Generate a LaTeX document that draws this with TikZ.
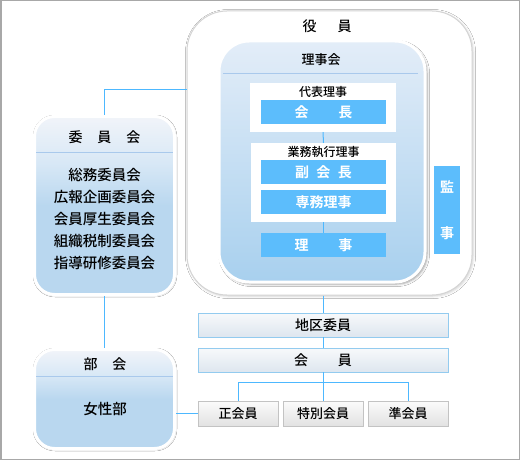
\documentclass[tikz,border=0pt]{standalone}
\usepackage{fontspec}
\setmainfont{Noto Sans CJK JP}[UprightFont={* Medium}, BoldFont={* Bold}]
\usepackage{tikz}
\usetikzlibrary{shadows.blur}
\definecolor{linkblue}{HTML}{4DB8FF}
\definecolor{barblue}{HTML}{5CBDFC}
\definecolor{rimgray}{HTML}{D4D4D4}
\definecolor{framegray}{HTML}{A8A8A8}
\definecolor{boxtop}{HTML}{F1F4F9}
\definecolor{boxmid}{HTML}{D8E8F6}
\definecolor{boxbot}{HTML}{B9D7EF}
\definecolor{rjtop}{HTML}{E3EDF8}
\definecolor{rjbot}{HTML}{A8D0EE}
\definecolor{sepblue}{HTML}{A9C9EC}
\definecolor{tabedge}{HTML}{93CBEF}
\definecolor{tabtop}{HTML}{F7F9FB}
\definecolor{tabbot}{HTML}{DEE6EF}
\definecolor{rankedge}{HTML}{C3C3C3}
\definecolor{ranktop}{HTML}{FBFBFB}
\definecolor{rankbot}{HTML}{E2E2E2}
\pgfdeclareverticalshading{panelfade}{100bp}{color(0bp)=(boxbot); color(25bp)=(boxbot); color(50bp)=(boxbot); color(62bp)=(boxmid); color(75bp)=(boxtop); color(100bp)=(boxtop)}
\tikzset{
  fs/.style={font=\fontsize{#1}{#1}\selectfont},
  link/.style={draw=linkblue, line width=1pt},
  sidepanel/.style={rounded corners=20pt, draw=white, line width=3pt, shading=panelfade,
    inner sep=0pt, blur shadow={shadow xshift=0.5pt, shadow yshift=-0.5pt, shadow blur radius=2pt, shadow opacity=45}},
  postbar/.style={fill=barblue, text=white, fs=14, font=\fontsize{14}{14}\selectfont\bfseries,
    minimum width=125, minimum height=24, inner sep=0pt},
  whitebox/.style={fill=white, inner sep=0pt},
  tierbox/.style={draw=tabedge, top color=tabtop, bottom color=tabbot, fs=14,
    minimum width=250, minimum height=24, inner sep=0pt},
  rankbox/.style={draw=rankedge, top color=ranktop, bottom color=rankbot, fs=13,
    minimum width=80, minimum height=25, inner sep=0pt}
}
\begin{document}
\begin{tikzpicture}[x=1pt, y=-1pt]
	\useasboundingbox (0,0) rectangle (520,460);
	\fill[white] (0,0) rectangle (520,460);
	\draw[framegray, line width=1.5pt] (0.75,0.75) rectangle (519.25,459.25);
	% officers
	\node[draw=rimgray, fill=white, line width=1pt, rounded corners=40pt, inner sep=0pt,
		minimum width=285, minimum height=284,
		blur shadow={shadow xshift=1pt, shadow yshift=-1pt, shadow blur radius=2.5pt, shadow opacity=20}] (yakuin) at (329.5,153) {};
	\node[fs=14] (t-yakuin) at (327,26) {役\hspace{21pt}員};
	\node[rounded corners=30pt, draw=white, line width=3pt, top color=rjtop, bottom color=rjbot,
		inner sep=0pt, minimum width=206, minimum height=241,
		blur shadow={shadow xshift=2pt, shadow yshift=-2pt, shadow blur radius=2.5pt, shadow opacity=40}] (rijikai) at (322,161.5) {};
	\node[fs=13] (t-rijikai) at (321,60) {理事会};
	\draw[sepblue] (223,73) -- (418,73);
	\node[whitebox, minimum width=146, minimum height=49] (daihyo) at (323,107.5) {};
	\node[fs=12] (t-daihyo) at (323,92) {代表理事};
	\node[whitebox, minimum width=145, minimum height=79] (gyomu) at (323.5,182.5) {};
	\node[fs=12] (t-gyomu) at (323.5,152) {業務執行理事};
	\node[postbar] (kaicho) at (323.5,112) {会\hspace{30pt}長};
	\node[postbar] (fuku) at (323.5,172) {副\hspace{7.5pt}会\hspace{7.5pt}長};
	\node[postbar] (senmu) at (323.5,202) {専務理事};
	\node[postbar] (riji) at (323.5,245) {理\hspace{30pt}事};
	\node[postbar, minimum width=26, minimum height=88, align=center] (kanji) at (447,210) {監\\[32pt]事};
	% committees
	\node[sidepanel, minimum width=140, minimum height=178] (iinkai) at (104.5,205.5) {};
	\node[fs=14] (t-iinkai) at (104.5,137) {委\hspace{15pt}員\hspace{15pt}会};
	\draw[sepblue] (36,152) -- (173,152);
	\node[font=\fontsize{14.5}{22}\selectfont, align=center] (l-iinkai) at (104.5,219)
		{総務委員会\\広報企画委員会\\会員厚生委員会\\組織税制委員会\\指導研修委員会};
	\node[sidepanel, minimum width=140, minimum height=99] (bukai) at (104.5,399) {};
	\node[fs=14] (t-bukai) at (105,364) {部\hspace{15pt}会};
	\draw[sepblue] (36,376) -- (173,376);
	\node[fs=14.5] (l-bukai) at (105,409) {女性部};
	% members
	\node[tierbox] (chiku) at (323,325) {地区委員};
	\node[tierbox] (kaiin) at (323,360) {会\hspace{30pt}員};
	\node[rankbox] (sei) at (238,413.5) {正会員};
	\node[rankbox] (tokubetsu) at (323,413.5) {特別会員};
	\node[rankbox] (jun) at (408,413.5) {準会員};
	% links
	\draw[link] (iinkai.north) |- (yakuin.west |- 0,90);
	\draw[link] (iinkai.south) -- (bukai.north);
	\draw[link] (bukai.east |- sei.west) -- (sei.west);
	\draw[link] (chiku.north |- yakuin.south) -- (chiku.north);
	\draw[link] (chiku.south) -- (kaiin.north);
	\draw[link] (kaiin.south) -- (tokubetsu.north);
	\draw[link] (sei.north) -- ++(0,-18) -| (jun.north);
	\draw[link] (daihyo.south) -- (gyomu.north);
	\draw[link] (gyomu.south) -- (riji.north);
\end{tikzpicture}
\end{document}
